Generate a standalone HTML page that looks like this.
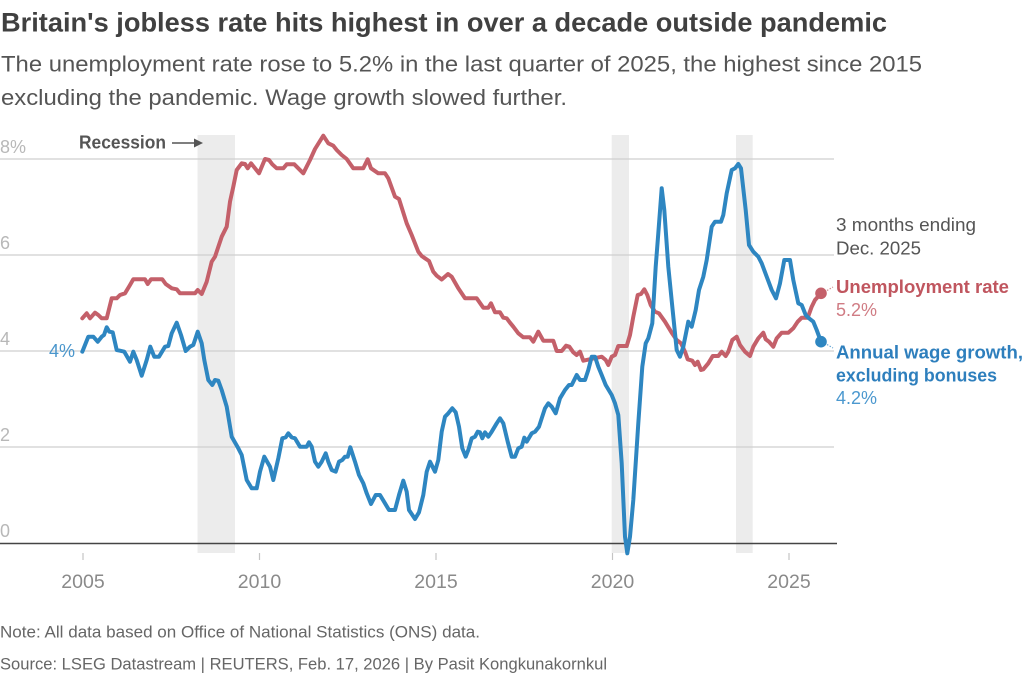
<!DOCTYPE html>
<html>
<head>
<meta charset="utf-8">
<style>
  html, body { margin: 0; padding: 0; background: #ffffff; }
  body { width: 1024px; height: 675px; overflow: hidden; }
  svg { display: block; }
  text { font-family: "Liberation Sans", "DejaVu Sans", sans-serif; }
</style>
</head>
<body>
<svg width="1024" height="675" viewBox="0 0 1024 675" xmlns="http://www.w3.org/2000/svg">
  <rect x="0" y="0" width="1024" height="675" fill="#ffffff"/>

  <!-- Title -->
  <text x="1" y="31.5" font-size="26.5" font-weight="bold" fill="#404040" textLength="886" lengthAdjust="spacingAndGlyphs">Britain's jobless rate hits highest in over a decade outside pandemic</text>
  <!-- Subtitle -->
  <text x="1" y="71.5" font-size="22" fill="#555555" textLength="921" lengthAdjust="spacingAndGlyphs">The unemployment rate rose to 5.2% in the last quarter of 2025, the highest since 2015</text>
  <text x="1" y="105" font-size="22" fill="#555555" textLength="566" lengthAdjust="spacingAndGlyphs">excluding the pandemic. Wage growth slowed further.</text>

  <!-- Recession bands -->
  <rect x="197.5" y="135" width="37.5" height="418" fill="#ececec"/>
  <rect x="611.7" y="135" width="17.3" height="418" fill="#ececec"/>
  <rect x="736" y="135" width="16.7" height="418" fill="#ececec"/>

  <!-- Gridlines -->
  <g stroke="#cfcfcf" stroke-width="1.3">
    <line x1="0" y1="159" x2="834" y2="159"/>
    <line x1="0" y1="255" x2="834" y2="255"/>
    <line x1="0" y1="351" x2="834" y2="351"/>
    <line x1="0" y1="447" x2="834" y2="447"/>
  </g>
  <line x1="0" y1="543.5" x2="837" y2="543.5" stroke="#444444" stroke-width="1.6"/>

  <!-- Y labels -->
  <g font-size="18" fill="#b8b8b8">
    <text x="0" y="153">8%</text>
    <text x="0" y="249">6</text>
    <text x="0" y="345">4</text>
    <text x="0" y="441">2</text>
    <text x="0" y="537">0</text>
  </g>
  <text x="49" y="357" font-size="18" fill="#4a96cc" textLength="26" lengthAdjust="spacingAndGlyphs">4%</text>

  <!-- X ticks -->
  <g stroke="#c4c4c4" stroke-width="1.2">
    <line x1="83" y1="553" x2="83" y2="560"/>
    <line x1="259.5" y1="553" x2="259.5" y2="560"/>
    <line x1="436" y1="553" x2="436" y2="560"/>
    <line x1="612.5" y1="553" x2="612.5" y2="560"/>
    <line x1="789" y1="553" x2="789" y2="560"/>
  </g>
  <g font-size="19.5" fill="#8a8a8a" text-anchor="middle">
    <text x="83" y="588">2005</text>
    <text x="259.5" y="588">2010</text>
    <text x="436" y="588">2015</text>
    <text x="612.5" y="588">2020</text>
    <text x="789" y="588">2025</text>
  </g>

  <!-- Recession label -->
  <text x="79" y="148.5" font-size="18" font-weight="bold" fill="#555555" textLength="87" lengthAdjust="spacingAndGlyphs">Recession</text>
  <line x1="172" y1="143" x2="195" y2="143" stroke="#555555" stroke-width="1.6"/>
  <polygon points="194,138.5 203,143 194,147.5" fill="#555555"/>

  <!-- Unemployment rate (red) -->
  <polyline fill="none" stroke="#c4606a" stroke-width="4" stroke-linejoin="round" stroke-linecap="round"
    points="82.3,318.3 86.7,313.3 90,318.3 95,312.7 98.3,315 101.7,318.3 106.7,318.3 111.7,298.3 116.7,298.3 120,295 125,293.3 130,285 133.3,279.3 145,279.3 147.7,284 151,279.3 162.3,279.3 165.7,284 171.7,288.3 176.7,289.3 180,293.3 195,293.3 197.7,290 201.7,294 206.7,281.7 211.7,261.7 215,256.7 221.7,236.7 226.7,226.7 230,201.7 233.3,186.7 236.7,170 241.7,163.3 245,164 247.7,168.3 251,163.3 255,168.3 259,173.3 265,159 269,160 272.3,164.3 276.7,168.3 283.3,168.3 286.7,164.3 294.3,164.3 298.3,168.3 303.3,173.3 310,160 315,149 323.3,135.7 328.3,143.3 333.3,145.7 336.7,150 341.7,155 346.7,159 353.3,168.3 363.3,168.3 367.7,159.3 371,168.3 378.3,173.3 385,173.3 388.3,178.3 395,196.7 399,199 406.7,223.3 411.7,235 418.3,251.7 421.7,256 425,258.3 429,261 433.3,271.7 436.7,275.7 441.7,279.5 448,274 451.7,276.7 458.3,288.3 465,298.3 476.7,298.3 483.3,307.7 488.3,307.7 491,303.3 495,312.3 500,312.3 503.3,317.7 506.7,318.3 510,322.7 513.3,326.7 518.3,333.3 523.3,337.3 530,337.3 533.3,341.7 538.3,331.7 543.3,340.7 553.3,340.7 556.7,351 561.7,351 566,345.7 569.3,346.7 573.3,352.3 576.7,355 580,351.7 583.3,360.7 601.7,356.7 605.7,360 608.3,365 611.7,356.7 615,355 618.3,346 626.7,346 630,335 633.3,316.7 637.7,295 641,294 644.3,289.3 647.3,295 650.7,305 655,311.7 659,313.3 665,321.7 671.7,332.7 676.7,340 681,343.3 685,351.7 687.7,359.3 692.3,360.7 695,365 697.7,361.7 701,370 703.3,369.3 708.3,363.3 712.7,356 718.3,356 721.7,351.7 725.7,356 728.3,351.7 732.3,340 736.7,336.7 740,345 745,351.7 750,356 753.3,346.7 758.3,338.3 763.3,332.7 765.7,339.3 769,341.7 773.3,346.7 776.7,338.3 781.7,332.7 788.3,332.7 793.3,328.3 797.7,321.7 801.7,317.7 807.7,317.7 811.7,306.7 815,300 821,293.3"/>

  <!-- Annual wage growth (blue) -->
  <polyline fill="none" stroke="#2e86c1" stroke-width="4" stroke-linejoin="round" stroke-linecap="round"
    points="82.3,351.7 88.3,336.7 93.3,336.7 97.7,341.7 101.7,336.7 104,335 106.7,327.3 109.3,331.7 112.7,332.3 116.7,350 120,350.7 124.3,351.7 130,361.7 133.3,351.7 136.7,360 141.7,375.7 146.7,360 150.3,346.7 154.3,356.7 159,356.7 165,346.7 168.3,346 171.7,333.3 176.7,322.7 181,335 185.7,351 190,346.7 193.3,345 197.7,331.7 201.7,343.3 204.3,360 208.3,380 212.3,385 215,380 218.3,380.7 221.7,390 226.7,406.7 231.7,436.7 238.3,448.3 241.7,455 246.7,480 251.7,488.3 256.7,488.3 260,471.7 264.3,456.7 270,466.7 273.3,480 278.3,458.3 282.3,438.3 285.7,437.3 288.3,433.3 291.7,437.3 295,438.3 300,446.7 306.7,446.7 309,442.3 311.7,446.7 315,461.7 318.3,466.7 321.7,461.7 325.7,453.3 328.3,461.7 331.7,470 335.7,471.7 339,461.7 342.3,460 345,456.7 347.7,456.7 350.3,447.3 355,461.7 359,475 363.3,483.3 366.7,493.3 371,504 375.7,495 380,495 385,503.3 389,510 395,510 399,495 403.3,480.7 406.7,491.7 409,510 415,519 419,512.3 423.3,495 426.7,471.7 430,461.7 435,471.7 438.3,460 441.7,431.7 445,416.7 448.3,413.3 452.3,408.3 455.7,412.3 459,426.7 462.3,448.3 465.7,456.7 468.3,450 471.7,438.3 475,436.7 477.7,431.7 480,432.3 482.3,438.3 485,432.3 488.3,436.7 491.7,431.7 496.7,423.3 500,418.3 503.3,423.3 507.7,441.7 511.7,456.7 515,456.7 518.3,448.3 521.7,446.7 524.3,437.7 526.7,441.7 531.7,433.3 535,431.7 539,426.7 541.7,418.3 545,408.3 548.3,403.3 551.7,406.7 555.7,413.3 560,398.3 565,390 569,385 571.7,385 576.7,375 580,380 585,380 588.3,370 591.7,356.7 595,356.7 598.3,366.7 601.7,375 605.7,385 611.7,395 615,403.3 618.3,415 621.7,463.3 625,536.7 627.3,553.3 630,536.7 633.3,500 638.3,423.3 642.3,366.7 645.7,343.3 648.3,338.3 652.3,323.3 655.7,266.7 658.3,233.3 661.7,188.3 664.3,210 668.3,266.7 672.3,306.7 676.7,350 680,356.7 683.3,346.7 688.3,321.7 691.7,326.7 695.7,310 699,290 703.3,276.7 706.7,260 711.7,226.7 715,221.7 721,221.7 723.3,215 726.7,193.3 731.7,170 735,168.3 738.3,164 741,168.3 745.7,210 749,245 753.3,251.7 758.3,256.7 761.7,263.3 766.7,276.7 771.7,290 776,298.3 780,283.3 784.3,260 790,260 793.3,280 798.3,303.3 801.7,305 805.7,315 809,318.3 813.3,321.7 816.7,330 821,341.7"/>

  <!-- End dots -->
  <circle cx="821" cy="293.3" r="5.8" fill="#c4606a"/>
  <circle cx="821" cy="341.7" r="5.8" fill="#2e86c1"/>
  <line x1="827" y1="290.5" x2="833" y2="287" stroke="#d08a90" stroke-width="1.2" stroke-dasharray="1.5,1.5"/>
  <line x1="827" y1="344.5" x2="833" y2="348" stroke="#6aa8d4" stroke-width="1.2" stroke-dasharray="1.5,1.5"/>

  <!-- Annotations -->
  <text x="836" y="231" font-size="18" fill="#555555" textLength="140" lengthAdjust="spacingAndGlyphs">3 months ending</text>
  <text x="836" y="254.5" font-size="18" fill="#555555" textLength="85" lengthAdjust="spacingAndGlyphs">Dec. 2025</text>
  <text x="836" y="293" font-size="18" font-weight="bold" fill="#c0565f" textLength="173" lengthAdjust="spacingAndGlyphs">Unemployment rate</text>
  <text x="836" y="316" font-size="18" fill="#d07c84" textLength="41" lengthAdjust="spacingAndGlyphs">5.2%</text>
  <text x="836" y="358.5" font-size="18" font-weight="bold" fill="#2e7fbd" textLength="187" lengthAdjust="spacingAndGlyphs">Annual wage growth,</text>
  <text x="836" y="381.5" font-size="18" font-weight="bold" fill="#2e7fbd" textLength="161" lengthAdjust="spacingAndGlyphs">excluding bonuses</text>
  <text x="836" y="404" font-size="18" fill="#4b98cf" textLength="41" lengthAdjust="spacingAndGlyphs">4.2%</text>

  <!-- Footer -->
  <text x="0" y="637.5" font-size="17" fill="#666666" textLength="480" lengthAdjust="spacingAndGlyphs">Note: All data based on Office of National Statistics (ONS) data.</text>
  <text x="0" y="669.5" font-size="17" fill="#666666" textLength="607" lengthAdjust="spacingAndGlyphs">Source: LSEG Datastream | REUTERS, Feb. 17, 2026 | By Pasit Kongkunakornkul</text>
</svg>
</body>
</html>
